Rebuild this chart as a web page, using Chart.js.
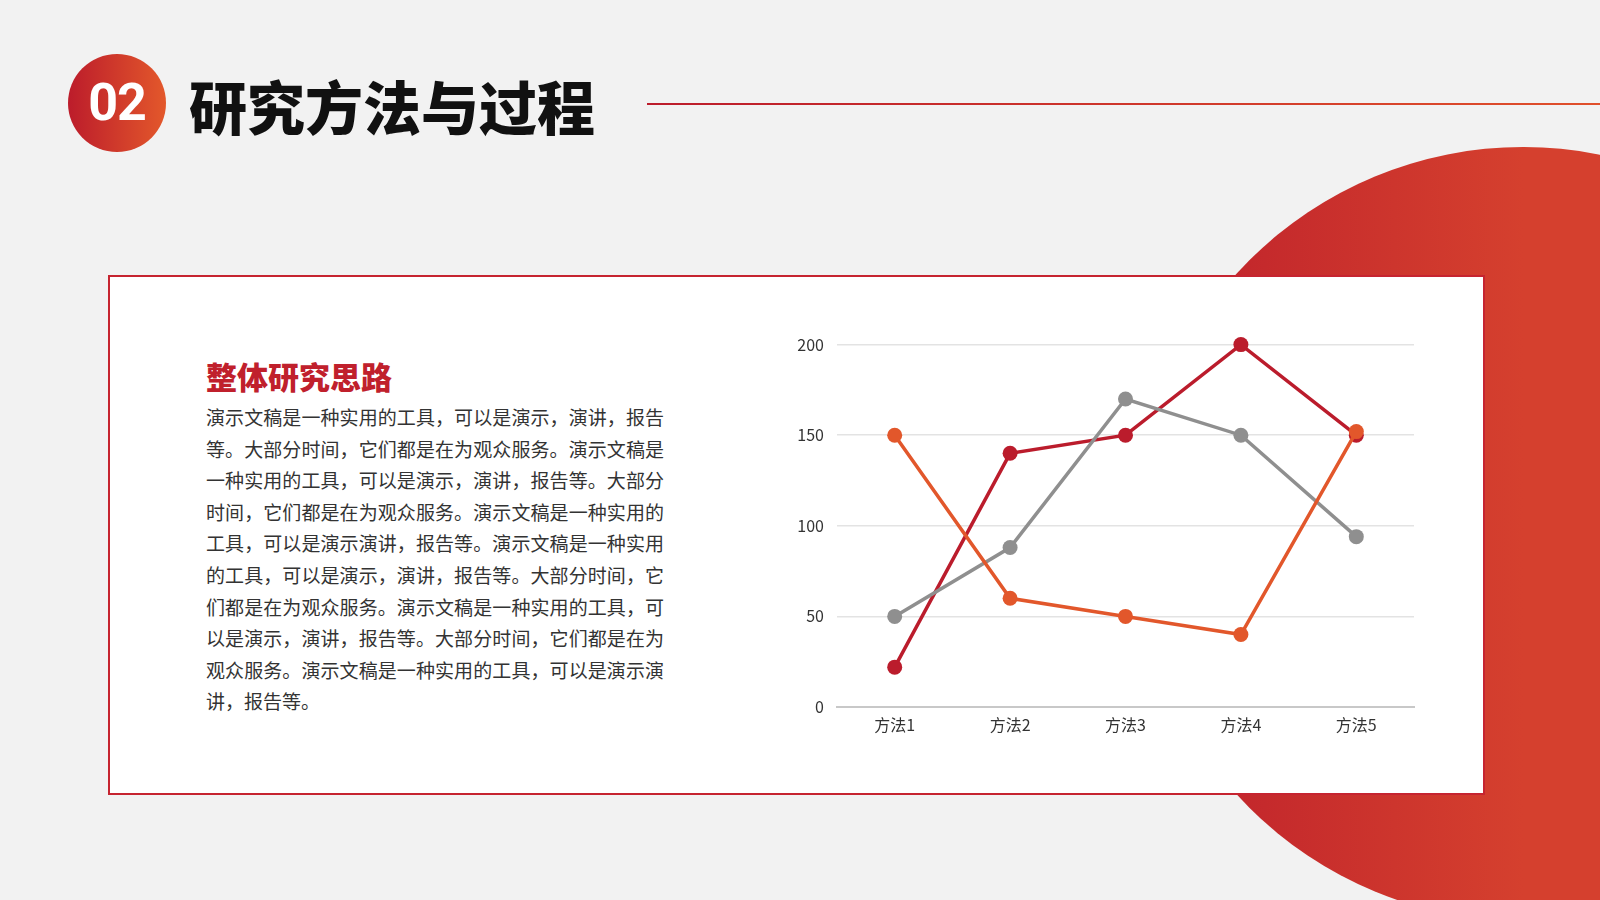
<!DOCTYPE html>
<html>
<head>
<meta charset="utf-8">
<script src="https://cdn.jsdelivr.net/npm/chart.js@4"></script>
<style>
  html, body { margin: 0; padding: 0; }
  body { width: 1600px; height: 900px; background: #f2f2f2; position: relative; overflow: hidden; font-family: "Noto Sans CJK SC", sans-serif; }
  .badge { position: absolute; left: 68px; top: 54px; width: 98px; height: 98px; border-radius: 50%;
    background: linear-gradient(90deg, #bc1c2b, #e3582b); color: #fff; font-family: Roboto, sans-serif; font-weight: 700;
    font-size: 52px; line-height: 98px; text-align: center; letter-spacing: -1px; }
  .title { position: absolute; left: 189px; top: 74px; font-size: 58px; line-height: 62px; font-weight: 900; color: #111; }
  .rule { position: absolute; left: 647px; top: 103px; width: 953px; height: 2px; background: linear-gradient(90deg, #bc1c2b, #e0502b); }
  .blob { position: absolute; left: 1136px; top: 147px; width: 774px; height: 774px; border-radius: 50%;
    background: linear-gradient(90deg, #bd1f2b, #d5402e 50%); }
  .card { position: absolute; left: 108px; top: 275px; width: 1377px; height: 520px; box-sizing: border-box;
    background: #fff; border: 2px solid #c62430; }
  .heading { position: absolute; left: 206px; top: 355px; font-size: 31px; line-height: 42px; font-weight: 900; color: #c0202c; }
  .text { position: absolute; left: 206px; top: 401px; width: 458px; font-size: 19px; line-height: 31.6px; color: #333; text-align: justify; }
  .chartBox { position: absolute; left: 760px; top: 322px; width: 670px; height: 418px; }
</style>
</head>
<body>
<div class="blob"></div>
<div class="badge">02</div>
<div class="title">研究方法与过程</div>
<div class="rule"></div>
<div class="card"></div>
<div class="heading">整体研究思路</div>
<div class="text">演示文稿是一种实用的工具，可以是演示，演讲，报告等。大部分时间，它们都是在为观众服务。演示文稿是一种实用的工具，可以是演示，演讲，报告等。大部分时间，它们都是在为观众服务。演示文稿是一种实用的工具，可以是演示演讲，报告等。演示文稿是一种实用的工具，可以是演示，演讲，报告等。大部分时间，它们都是在为观众服务。演示文稿是一种实用的工具，可以是演示，演讲，报告等。大部分时间，它们都是在为观众服务。演示文稿是一种实用的工具，可以是演示演讲，报告等。</div>
<div class="chartBox"><canvas id="lineChart"></canvas></div>
<script>
const categories = ['方法1', '方法2', '方法3', '方法4', '方法5'];
const series1 = [22, 140, 150, 200, 150];
const series2 = [50, 88, 170, 150, 94];
const series3 = [150, 60, 50, 40, 152];
const yMin = 0, yMax = 200, yStep = 50;

const tickFont = { family: '"Noto Sans CJK SC", sans-serif', size: 16 };

function lineSet(label, data, color, order) {
  return {
    label, data, order,
    borderColor: color,
    backgroundColor: color,
    borderWidth: 3.5,
    pointRadius: 7.5,
    pointHoverRadius: 7.5,
    pointBorderWidth: 0,
    tension: 0,
    clip: false
  };
}

new Chart(document.getElementById('lineChart'), {
  type: 'line',
  data: {
    labels: categories,
    datasets: [
      lineSet('系列1', series1, '#bb1c2c', 3),
      lineSet('系列2', series2, '#8f8f8f', 2),
      lineSet('系列3', series3, '#e2572b', 1)
    ]
  },
  options: {
    responsive: true,
    maintainAspectRatio: false,
    animation: false,
    layout: { padding: { top: 0, right: 16, bottom: 0, left: 0 } },
    plugins: { legend: { display: false }, tooltip: { enabled: false } },
    scales: {
      x: {
        offset: true,
        grid: { display: false },
        border: { color: '#c8c8c8', width: 2 },
        ticks: { color: '#333', font: tickFont, padding: 0 },
        afterFit: s => { s.height = 33; }
      },
      y: {
        min: yMin, max: yMax,
        grid: { color: '#e3e3e3', lineWidth: 1.5, drawTicks: false },
        border: { display: false },
        ticks: { stepSize: yStep, color: '#333', font: tickFont, padding: 13 },
        afterFit: s => { s.width = 77; }
      }
    }
  }
});
</script>
</body>
</html>
